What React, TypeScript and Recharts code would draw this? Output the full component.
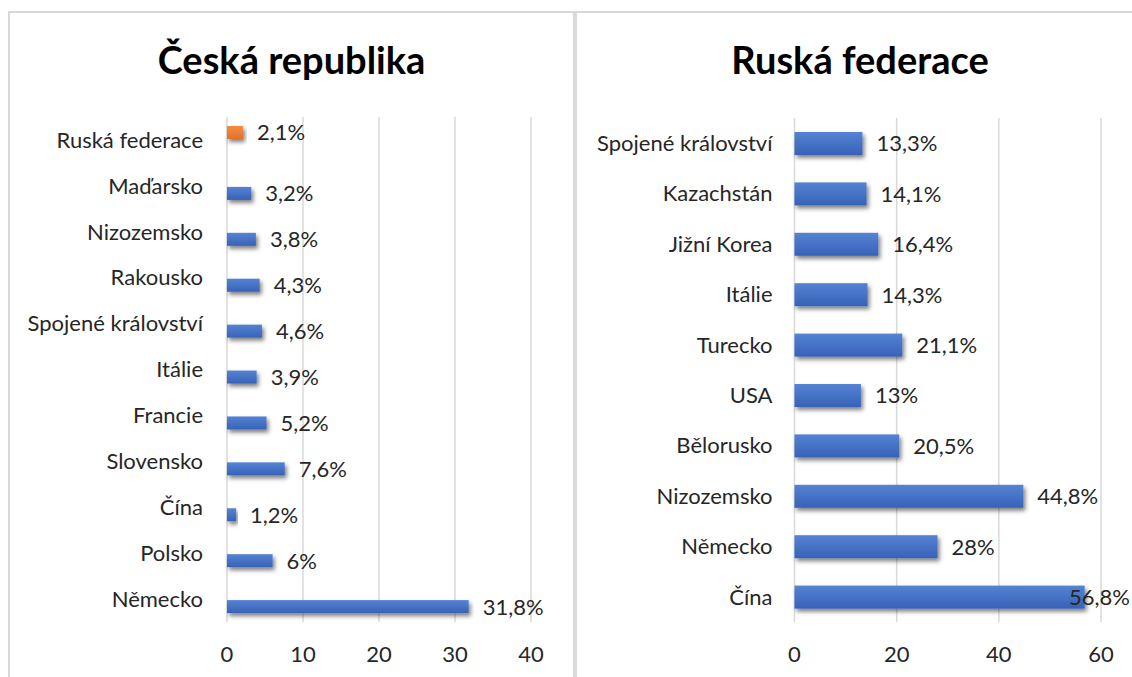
import React from "react"
import { Bar, BarChart, CartesianGrid, LabelList, XAxis, YAxis } from "recharts"

// Česká republika – categories top to bottom
const czCategories = [
  "Ruská federace",
  "Maďarsko",
  "Nizozemsko",
  "Rakousko",
  "Spojené království",
  "Itálie",
  "Francie",
  "Slovensko",
  "Čína",
  "Polsko",
  "Německo",
]
// orange series (Russia only) and blue series (the rest)
const czRussia = [2.1, null, null, null, null, null, null, null, null, null, null]
const czOthers = [null, 3.2, 3.8, 4.3, 4.6, 3.9, 5.2, 7.6, 1.2, 6, 31.8]
const czTicks = [0, 10, 20, 30, 40]

// Ruská federace – categories top to bottom
const ruCategories = [
  "Spojené království",
  "Kazachstán",
  "Jižní Korea",
  "Itálie",
  "Turecko",
  "USA",
  "Bělorusko",
  "Nizozemsko",
  "Německo",
  "Čína",
]
const ruValues = [13.3, 14.1, 16.4, 14.3, 21.1, 13, 20.5, 44.8, 28, 56.8]
const ruTicks = [0, 20, 40, 60]

const czData = czCategories.map((name, i) => ({ name, ru: czRussia[i], cz: czOthers[i] }))
const ruData = ruCategories.map((name, i) => ({ name, v: ruValues[i] }))

const FONT = "Lato, 'Noto Sans', sans-serif"
const TEXT = "#262626"
const GRID = "#d9d9d9"

const fmt = (v: number) => String(v).replace(".", ",") + "%"

const barShape = (grad: string) => (props: any) => {
  const { x, y, width, height } = props
  if (!width || width <= 0) return <g />
  return <rect x={x} y={y} width={width} height={height} fill={`url(#${grad})`} filter="url(#barShadow)" />
}

// value label right of bar, pushed back inside the chart if it would overflow
const valueLabel = (chartWidth: number) => (props: any) => {
  const vb = props.viewBox && props.viewBox.width !== undefined ? props.viewBox : props
  const { value } = props
  if (value === null || value === undefined) return null
  const x = Number(vb.x) + Number(vb.width) + 14
  const tx = Math.min(x, chartWidth - 63)
  const cy = Number(vb.y) + Number(vb.height) / 2
  return (
    <text x={tx} y={cy} dy="0.36em" fontSize={22} fontFamily={FONT} fill={TEXT}>
      {fmt(value)}
    </text>
  )
}

const Defs = () => (
  <defs>
    <linearGradient id="blueGrad" x1="0" y1="0" x2="0" y2="1">
      <stop offset="0%" stopColor="#5583d3" />
      <stop offset="100%" stopColor="#3762b8" />
    </linearGradient>
    <linearGradient id="orangeGrad" x1="0" y1="0" x2="0" y2="1">
      <stop offset="0%" stopColor="#f58b42" />
      <stop offset="100%" stopColor="#e2712b" />
    </linearGradient>
    <filter id="barShadow" x="-10%" y="-40%" width="130%" height="200%">
      <feDropShadow dx="2" dy="3" stdDeviation="2" floodColor="#000" floodOpacity="0.5" />
    </filter>
  </defs>
)

const tickStyle = { fontSize: 22, fontFamily: FONT, fill: TEXT }

export default function App() {
  const titleStyle: React.CSSProperties = {
    position: "absolute",
    top: 35,
    fontFamily: FONT,
    fontWeight: 700,
    fontSize: 38,
    lineHeight: "48px",
    color: "#000",
    textAlign: "center",
  }
  return (
    <div style={{ position: "absolute", left: 0, top: 0, width: 1132, height: 677, overflow: "hidden", background: "#fff" }}>
      <div style={{ position: "absolute", left: 8, top: 11, width: 567, height: 720, boxSizing: "border-box", border: `2px solid ${GRID}` }} />
      <div style={{ position: "absolute", left: 575, top: 11, width: 600, height: 720, boxSizing: "border-box", border: `2px solid ${GRID}` }} />

      <div style={{ ...titleStyle, left: 8, width: 567 }}>Česká republika</div>
      <div style={{ ...titleStyle, left: 578, width: 564 }}>Ruská federace</div>

      <div style={{ position: "absolute", left: 10, top: 100 }}>
        <BarChart width={562} height={577} data={czData} layout="vertical" barGap={2} margin={{ top: 17, right: 41, bottom: 15, left: 0 }}>
          <Defs />
          <CartesianGrid horizontal={false} stroke={GRID} strokeWidth={1.5} />
          <XAxis type="number" domain={[0, 40]} ticks={czTicks} axisLine={false} tickLine={false} tickSize={8} tickMargin={16} height={40} tick={tickStyle} />
          <YAxis type="category" dataKey="name" width={217} axisLine={false} tickLine={false} tickSize={8} tickMargin={16} tick={tickStyle} interval={0} />
          <Bar dataKey="ru" barSize={13} isAnimationActive={false} shape={barShape("orangeGrad")}>
            <LabelList dataKey="ru" content={valueLabel(562)} />
          </Bar>
          <Bar dataKey="cz" barSize={13} isAnimationActive={false} shape={barShape("blueGrad")}>
            <LabelList dataKey="cz" content={valueLabel(562)} />
          </Bar>
        </BarChart>
      </div>

      <div style={{ position: "absolute", left: 578, top: 100 }}>
        <BarChart width={554} height={577} data={ruData} layout="vertical" margin={{ top: 18, right: 31, bottom: 15, left: 0 }}>
          <Defs />
          <CartesianGrid horizontal={false} stroke={GRID} strokeWidth={1.5} />
          <XAxis type="number" domain={[0, 60]} ticks={ruTicks} axisLine={false} tickLine={false} tickSize={8} tickMargin={16} height={40} tick={tickStyle} />
          <YAxis type="category" dataKey="name" width={216.5} axisLine={false} tickLine={false} tickSize={8} tickMargin={14} tick={tickStyle} interval={0} />
          <Bar dataKey="v" barSize={23} isAnimationActive={false} shape={barShape("blueGrad")}>
            <LabelList dataKey="v" content={valueLabel(554)} />
          </Bar>
        </BarChart>
      </div>
    </div>
  )
}
